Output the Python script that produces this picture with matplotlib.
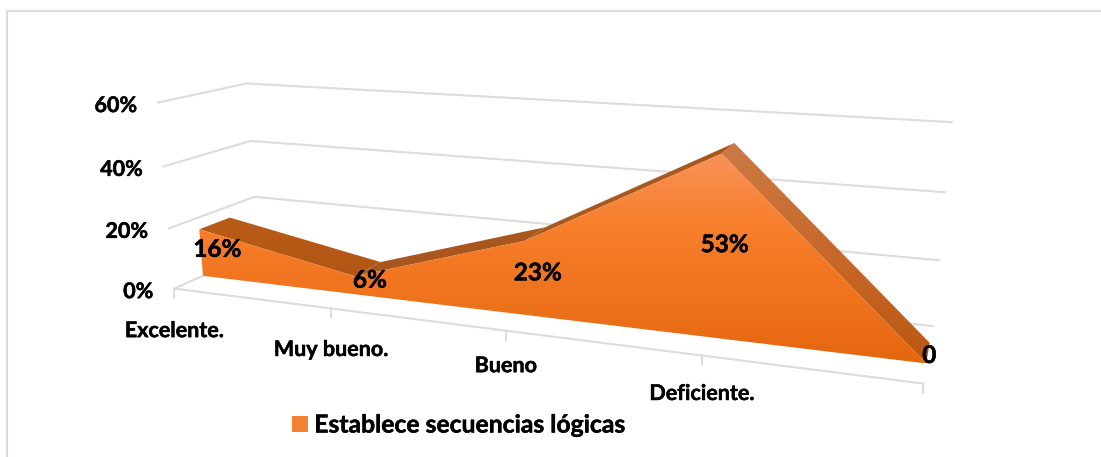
import matplotlib
matplotlib.use("Agg")
import matplotlib.pyplot as plt
import matplotlib.patheffects as pe
import numpy as np
from matplotlib.colors import LinearSegmentedColormap
from matplotlib.patches import Patch, Polygon

categories = ["Excelente.", "Muy bueno.", "Bueno", "Deficiente."]
values = [16, 6, 23, 53, 0]
dataLabels = ["16%", "6%", "23%", "53%", "0"]
yTicks = [0, 20, 40, 60]
yTickLabels = ["0%", "20%", "40%", "60%"]
seriesName = "Establece secuencias lógicas"

# the 3D box as it lands on the picture: (category, depth, value) -> pixel
boxPoints = [(0, 0, 0), (1, 0, 0), (2, 0, 0), (3, 0, 0), (4, 0, 0),
             (0, 0, 20), (0, 0, 40), (0, 0, 60),
             (0, 1, 20), (0, 1, 40), (0, 1, 60),
             (4, 1, 0), (4, 1, 20), (4, 1, 40), (4, 1, 60)]
boxPixels = [(175, 288), (332, 308), (505, 332), (702, 355), (923, 383),
             (168, 228), (163, 167), (158, 103),
             (253, 197), (252, 141), (247, 83),
             (933, 327), (938, 260), (945, 192), (952, 122)]


def fitCamera(points, pixels):
    rows = []
    for (x, y, z), (u, v) in zip(points, pixels):
        rows.append([x, y, z, 1, 0, 0, 0, 0, -u*x, -u*y, -u*z, -u])
        rows.append([0, 0, 0, 0, x, y, z, 1, -v*x, -v*y, -v*z, -v])
    return np.linalg.svd(np.array(rows, dtype=float))[2][-1].reshape(3, 4)


camera = fitCamera(boxPoints, boxPixels)


def project(cat, depth, val):
    cat, depth, val = np.broadcast_arrays(cat, depth, val)
    p = camera @ np.vstack([np.ravel(cat), np.ravel(depth), np.ravel(val), np.ones(np.size(cat))])
    return np.squeeze(p[0]/p[2]), np.squeeze(p[1]/p[2])


def fillGradient(ax, xs, ys, colors, zorder):
    # vertical gradient clipped to the polygon
    shape = Polygon(np.column_stack([xs, ys]), facecolor="none", edgecolor="none", zorder=zorder)
    ax.add_patch(shape)
    cmap = LinearSegmentedColormap.from_list("face", colors)
    image = ax.imshow(np.linspace(0, 1, 256).reshape(-1, 1), cmap=cmap, aspect="auto", zorder=zorder,
                      extent=[xs.min(), xs.max(), ys.max(), ys.min()])
    image.set_clip_path(shape)


fig = plt.figure(figsize=(11.01, 4.57), dpi=100)
ax = fig.add_axes([0, 0, 1, 1])
plt.rcParams["font.family"] = ["Lato", "DejaVu Sans"]

gridColor = "#DCDCDC"
heavy = [pe.withStroke(linewidth=0.35, foreground="black")]
cats = np.arange(len(values))
seriesFront = 0.32
seriesBack = 0.68

# walls
for tick in yTicks:
    x, y = project([0, 0, 4], [0, 1, 1], tick)
    ax.plot(x, y, color=gridColor, lw=1.5, zorder=1)
x, y = project([0, 4], 0, 0)
ax.plot(x, y, color=gridColor, lw=1.5, zorder=1)
for cat in cats:
    x, y = project(cat, 0, 0)
    ax.plot([x, x], [y, y+9], color=gridColor, lw=1.5, zorder=1)

# top faces of the area, one per segment
topColors = [["#B95B18", "#B35615"], ["#A9561F", "#A9561F"], ["#A8591F", "#A8591F"], ["#CB7A48", "#C8682A", "#BA5712"]]
for i in range(len(values)-1):
    xs, ys = project([i, i+1, i+1, i],
                     [seriesFront, seriesFront, seriesBack, seriesBack],
                     [values[i], values[i+1], values[i+1], values[i]])
    fillGradient(ax, xs, ys, topColors[i], 2)

# front face
frontX, frontY = project(np.r_[cats, cats[::-1]], seriesFront, np.r_[values, np.zeros(len(values))])
fillGradient(ax, frontX, frontY, ["#F99257", "#F77F2D", "#F0731E", "#E4670F"], 3)

# data labels, moved off the front corners
labelShift = [(18, 20), (15, 4), (13, 32), (3, 91), (3, -8)]
for i, label in enumerate(dataLabels):
    x, y = project(i, seriesFront, values[i])
    ax.text(x+labelShift[i][0], y+labelShift[i][1], label, ha="center", va="center",
            fontsize=17.5, fontweight="bold", color="black", zorder=5, path_effects=heavy)

# axis labels
for tick, label in zip(yTicks, yTickLabels):
    x, y = project(0, 0, tick)
    ax.text(x-21, y+3, label, ha="right", va="center", fontsize=15.5, fontweight="bold", zorder=5, path_effects=heavy)
catDrop = [42, 41, 35, 38]
for i, label in enumerate(categories):
    x, y = project(i, 0, 0)
    ax.text(x, y+catDrop[i], label, ha="center", va="center", fontsize=15.5, fontweight="bold", zorder=5, path_effects=heavy)

legend = ax.legend(handles=[Patch(facecolor="#F58233", edgecolor="none", label=seriesName)],
                   loc="center left", bbox_to_anchor=(270/1101, 1-425/457), frameon=False,
                   prop={"size": 17.8, "weight": "bold"}, handlelength=0.65, handleheight=0.65, handletextpad=0.24)
legend.get_texts()[0].set_path_effects(heavy)

# chart frame
ax.plot([6.5, 6.5, 1101], [457, 10.5, 10.5], color=gridColor, lw=1.5, zorder=0)

ax.set_xlim(0, 1101)
ax.set_ylim(457, 0)
ax.axis("off")

fig.savefig("out.png", dpi=100)
